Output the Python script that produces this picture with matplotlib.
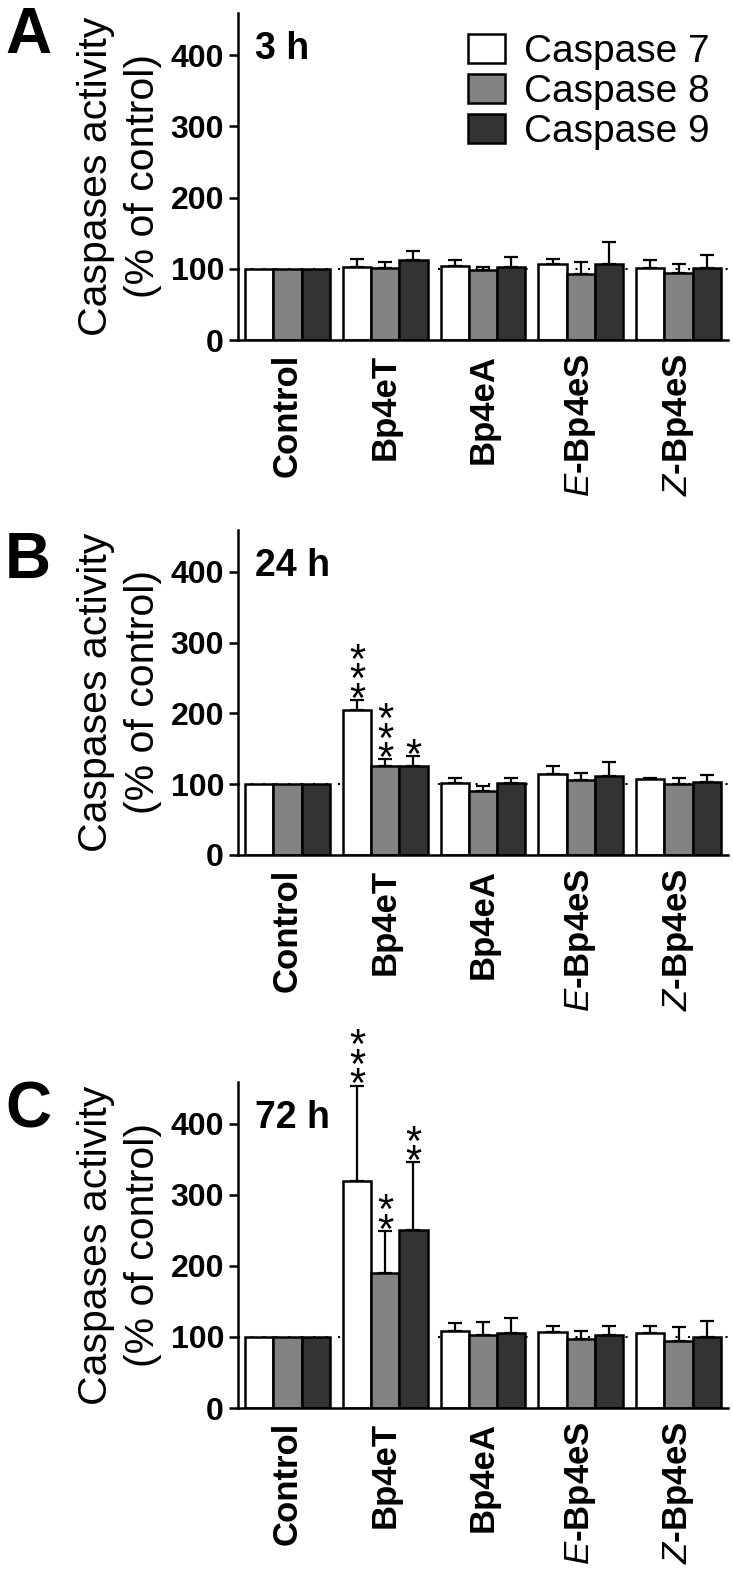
import numpy as np
import matplotlib
matplotlib.use("Agg")
import matplotlib.pyplot as plt

plt.rcParams["font.family"] = ["Liberation Sans", "DejaVu Sans"]
plt.rcParams["mathtext.fontset"] = "custom"
plt.rcParams["mathtext.it"] = "Liberation Sans:italic"
plt.rcParams["mathtext.rm"] = "Liberation Sans:bold"

groups = ["Control", "Bp4eT", "Bp4eA", "$\\mathit{E}$-Bp4eS", "$\\mathit{Z}$-Bp4eS"]
series = ["Caspase 7", "Caspase 8", "Caspase 9"]
colors = ["white", "#828282", "#333333"]
panel_labels = ["A", "B", "C"]
time_labels = ["3 h", "24 h", "72 h"]

# 3 h
c7_3h = [100, 102, 104, 107, 101]
c8_3h = [100, 101, 98, 93, 94]
c9_3h = [100, 112, 102, 106, 101]
c7_3h_err = [0, 11, 8, 7, 11]
c8_3h_err = [0, 9, 5, 17, 12]
c9_3h_err = [0, 13, 15, 32, 19]

# 24 h
c7_24h = [100, 205, 102, 114, 107]
c8_24h = [100, 125, 91, 106, 100]
c9_24h = [100, 126, 101, 111, 103]
c7_24h_err = [0, 14, 7, 12, 2]
c8_24h_err = [0, 10, 7, 10, 9]
c9_24h_err = [0, 14, 8, 21, 10]

# 72 h
c7_72h = [100, 319, 108, 107, 105]
c8_72h = [100, 190, 103, 97, 95]
c9_72h = [100, 250, 106, 103, 100]
c7_72h_err = [0, 135, 12, 9, 11]
c8_72h_err = [0, 59, 18, 12, 19]
c9_72h_err = [0, 96, 21, 13, 22]

# significance: (group, caspase, number of stars)
stars_24h = [(1, 0, 3), (1, 1, 3), (1, 2, 1)]
stars_72h = [(1, 0, 3), (1, 1, 2), (1, 2, 2)]

panels = [
    ([c7_3h, c8_3h, c9_3h], [c7_3h_err, c8_3h_err, c9_3h_err], []),
    ([c7_24h, c8_24h, c9_24h], [c7_24h_err, c8_24h_err, c9_24h_err], stars_24h),
    ([c7_72h, c8_72h, c9_72h], [c7_72h_err, c8_72h_err, c9_72h_err], stars_72h),
]

W, H = 733, 1572
fig = plt.figure(figsize=(W / 100, H / 100), dpi=100)

# axes boxes in pixels: (top, bottom)
ax_px = [(13, 340), (530, 855), (1082, 1408)]
letter_base = [53, 578, 1127]
ax_left, ax_right = 238, 728

w = 0.289
x = np.arange(len(groups))

for i, (vals, errs, stars) in enumerate(panels):
    top, bot = ax_px[i]
    ax = fig.add_axes([ax_left / W, 1 - bot / H, (ax_right - ax_left) / W, (bot - top) / H])

    ax.axhline(100, color="black", linestyle=(0, (1, 5)), lw=1.5, zorder=0.5)
    for k in range(3):
        xs = x + (k - 1) * w
        ax.bar(xs, vals[k], width=w, color=colors[k], edgecolor="black",
               linewidth=1.8, zorder=2, label=series[k])
        e = np.array(errs[k], dtype=float)
        m = e > 0
        v = np.array(vals[k], dtype=float)
        ax.errorbar(xs[m], v[m], yerr=[np.zeros(m.sum()), e[m]], fmt="none",
                    ecolor="black", elinewidth=1.6, capsize=4.8, capthick=1.6, zorder=1.5)

    # stacked asterisks, one text per bar
    for g, k, n in stars:
        xs = g + (k - 1) * w
        ytop = vals[k][g] + errs[k][g]
        ax.annotate("\n".join(["*"] * n), xy=(xs, ytop), xytext=(0, -15),
                    textcoords="offset points", ha="center", va="bottom",
                    fontsize=30, linespacing=0.34)

    ax.set_xlim(-0.505, 4.505)
    ax.set_ylim(0, 459)
    ax.set_yticks([0, 100, 200, 300, 400])
    ax.set_xticks(x)
    ax.set_xticklabels(groups, rotation=90, fontsize=25, fontweight="bold")
    ax.tick_params(axis="x", length=0, pad=10)
    ax.tick_params(axis="y", length=6.5, width=1.8, pad=3.5, labelsize=23)
    for lab in ax.get_yticklabels():
        lab.set_fontweight("bold")
    for s in ["top", "right"]:
        ax.spines[s].set_visible(False)
    for s in ["left", "bottom"]:
        ax.spines[s].set_linewidth(1.8)
    ax.set_ylabel("Caspases activity\n(% of control)", fontsize=29.5, labelpad=6,
                  linespacing=1.3)

    ax.annotate(time_labels[i], xy=(0, 1), xycoords="axes fraction",
                xytext=(12, -33), textcoords="offset points",
                fontsize=27, fontweight="bold", va="baseline", ha="left")

    fig.text(5 / W, 1 - letter_base[i] / H, panel_labels[i], fontsize=46,
             fontweight="bold", va="baseline", ha="left")

    if i == 0:
        ax.legend(loc="upper left", bbox_to_anchor=(0.469, 0.936), frameon=False,
                  fontsize=28, handlelength=0.95, handleheight=0.78,
                  handletextpad=0.5, labelspacing=0.1, borderpad=0,
                  borderaxespad=0)

fig.savefig("out.png", dpi=100)
